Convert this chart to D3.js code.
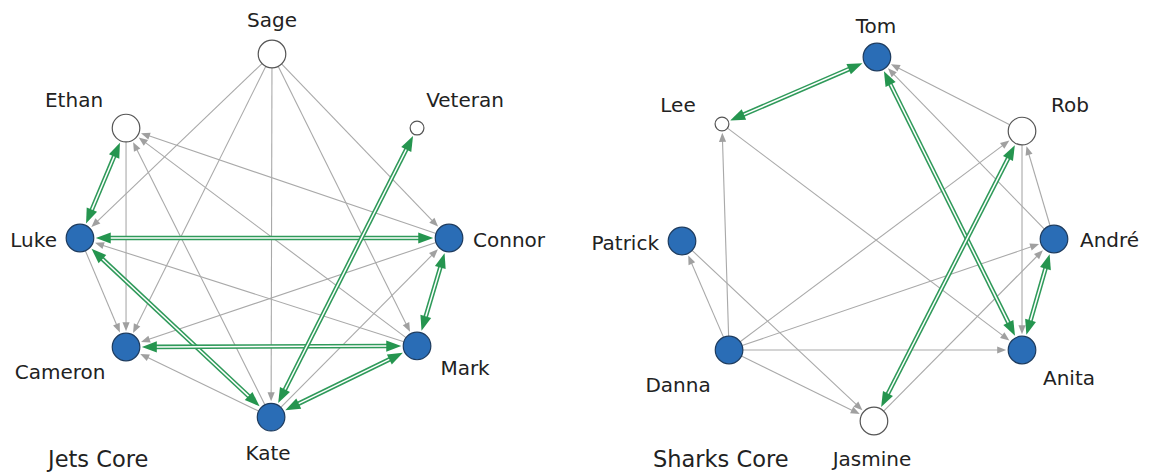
<!DOCTYPE html>
<html>
<head>
<meta charset="utf-8">
<script src="https://cdn.jsdelivr.net/npm/d3@7"></script>
<style>
  body { margin: 0; background: #fff; }
  text { font-family: "DejaVu Sans", Verdana, sans-serif; fill: #222; }
</style>
</head>
<body>
<div id="chart"></div>
<script>
// Jets network
var jetsNames = ["Sage", "Ethan", "Veteran", "Luke", "Connor", "Cameron", "Mark", "Kate"];
var jetsCore = [false, false, false, true, true, true, true, true];
var jetsWeight = [4, 4, 1, 4, 4, 4, 4, 4];
var jetsMutual = [
  ["Ethan", "Luke"], ["Luke", "Connor"], ["Luke", "Kate"], ["Cameron", "Mark"],
  ["Connor", "Mark"], ["Kate", "Mark"], ["Kate", "Veteran"]
];
var jetsOneWay = [
  ["Sage", "Luke"], ["Sage", "Cameron"], ["Sage", "Kate"], ["Sage", "Mark"], ["Sage", "Connor"],
  ["Ethan", "Cameron"], ["Kate", "Ethan"], ["Mark", "Ethan"], ["Connor", "Ethan"],
  ["Mark", "Luke"], ["Luke", "Cameron"], ["Connor", "Cameron"], ["Kate", "Cameron"], ["Kate", "Connor"]
];

// Sharks network
var sharksNames = ["Tom", "Lee", "Rob", "Patrick", "André", "Danna", "Anita", "Jasmine"];
var sharksCore = [true, false, false, true, true, true, true, false];
var sharksWeight = [4, 1, 4, 4, 4, 4, 4, 4];
var sharksMutual = [
  ["Lee", "Tom"], ["Tom", "Anita"], ["Rob", "Jasmine"], ["André", "Anita"]
];
var sharksOneWay = [
  ["Danna", "Lee"], ["Lee", "Anita"], ["Rob", "Tom"], ["André", "Tom"], ["André", "Rob"],
  ["Rob", "Anita"], ["Danna", "Rob"], ["Danna", "André"], ["Danna", "Anita"], ["Danna", "Jasmine"],
  ["Danna", "Patrick"], ["Patrick", "Jasmine"], ["Jasmine", "André"]
];

// Layout (normalised position on the ring, label offset)
var jetsLayout = [
  [0, -1, 0, -27, "middle"], [-0.789, -0.593, -52, -21, "middle"], [0.784, -0.593, 48, -21, "middle"],
  [-1.038, 0.011, -23, 9, "end"], [0.957, 0.011, 24, 9, "start"], [-0.789, 0.61, -66, 32, "middle"],
  [0.784, 0.604, 48, 29, "middle"], [-0.005, 0.995, -3, 43, "middle"]
];
var sharksLayout = [
  [0.048, -1, -1, -24, "middle"], [-0.785, -0.632, -44, -12, "middle"], [0.828, -0.593, 48, -19, "middle"],
  [-1, 0.011, -23, 9, "end"], [1, 0, 26, 8, "start"], [-0.747, 0.61, -51, 42, "middle"],
  [0.828, 0.61, 47, 35, "middle"], [0.032, 1, -2, 45, "middle"]
];

var width = 1150, height = 476;
var svg = d3.select("#chart").append("svg")
  .attr("width", width)
  .attr("height", height);

var radius = d3.scaleSqrt().domain([0, 4]).range([0, 13.8]);

function arrowPath(tx, ty, ux, uy, len, half) {
  var bx = tx - ux * len, by = ty - uy * len;
  return "M" + tx + "," + ty +
    "L" + (bx - uy * half) + "," + (by + ux * half) +
    "L" + (bx + uy * half) + "," + (by - ux * half) + "Z";
}

function drawNetwork(names, core, weight, mutual, oneWay, layout, xRange, yRange, title, titleX) {
  var x = d3.scaleLinear().domain([-1, 1]).range(xRange);
  var y = d3.scaleLinear().domain([-1, 1]).range(yRange);
  var nodes = {};
  names.forEach(function(n, i) {
    nodes[n] = { name: n, core: core[i], r: radius(weight[i]),
      x: x(layout[i][0]), y: y(layout[i][1]), dx: layout[i][2], dy: layout[i][3], anchor: layout[i][4] };
  });
  var g = svg.append("g");

  // gray one-way ties
  oneWay.forEach(function(l) {
    var s = nodes[l[0]], t = nodes[l[1]];
    var d = Math.hypot(t.x - s.x, t.y - s.y), ux = (t.x - s.x) / d, uy = (t.y - s.y) / d;
    var tip = [t.x - ux * (t.r + 2), t.y - uy * (t.r + 2)];
    g.append("line")
      .attr("x1", s.x + ux * s.r).attr("y1", s.y + uy * s.r)
      .attr("x2", tip[0] - ux * 6).attr("y2", tip[1] - uy * 6)
      .attr("stroke", "#a9a9a9").attr("stroke-width", 1.1);
    g.append("path")
      .attr("d", arrowPath(tip[0], tip[1], ux, uy, 9, 3.6))
      .attr("fill", "#a0a0a0");
  });

  // green mutual ties
  mutual.forEach(function(l) {
    var s = nodes[l[0]], t = nodes[l[1]];
    var d = Math.hypot(t.x - s.x, t.y - s.y), ux = (t.x - s.x) / d, uy = (t.y - s.y) / d;
    var tipT = [t.x - ux * (t.r + 2), t.y - uy * (t.r + 2)];
    var tipS = [s.x + ux * (s.r + 2), s.y + uy * (s.r + 2)];
    var x1 = tipS[0] + ux * 12, y1 = tipS[1] + uy * 12, x2 = tipT[0] - ux * 12, y2 = tipT[1] - uy * 12;
    g.append("line")
      .attr("x1", x1).attr("y1", y1).attr("x2", x2).attr("y2", y2)
      .attr("stroke", "#2f9a5a").attr("stroke-width", 4.6);
    g.append("line")
      .attr("x1", x1).attr("y1", y1).attr("x2", x2).attr("y2", y2)
      .attr("stroke", "#fff").attr("stroke-width", 1.5);
    g.append("path").attr("d", arrowPath(tipT[0], tipT[1], ux, uy, 15, 5.6)).attr("fill", "#25954f");
    g.append("path").attr("d", arrowPath(tipS[0], tipS[1], -ux, -uy, 15, 5.6)).attr("fill", "#25954f");
  });

  var list = names.map(function(n) { return nodes[n]; });
  g.selectAll("circle.node")
    .data(list)
    .enter()
    .append("circle")
    .attr("class", "node")
    .attr("cx", function(d) { return d.x; })
    .attr("cy", function(d) { return d.y; })
    .attr("r", function(d) { return d.r; })
    .attr("fill", function(d) { return d.core ? "#2a6db6" : "#fff"; })
    .attr("stroke", function(d) { return d.core ? "#1d3b5e" : "#555"; })
    .attr("stroke-width", 1.2);

  g.selectAll("text.label")
    .data(list)
    .enter()
    .append("text")
    .attr("class", "label")
    .attr("x", function(d) { return d.x + d.dx; })
    .attr("y", function(d) { return d.y + d.dy; })
    .attr("text-anchor", function(d) { return d.anchor; })
    .attr("font-size", 20)
    .text(function(d) { return d.name; });

  g.append("text")
    .attr("x", titleX)
    .attr("y", 467)
    .attr("font-size", 22.5)
    .text(title);
}

drawNetwork(jetsNames, jetsCore, jetsWeight, jetsMutual, jetsOneWay, jetsLayout,
  [87, 457], [54, 418], "Jets Core", 48);
drawNetwork(sharksNames, sharksCore, sharksWeight, sharksMutual, sharksOneWay, sharksLayout,
  [682, 1054], [57, 421], "Sharks Core", 653);
</script>
</body>
</html>
